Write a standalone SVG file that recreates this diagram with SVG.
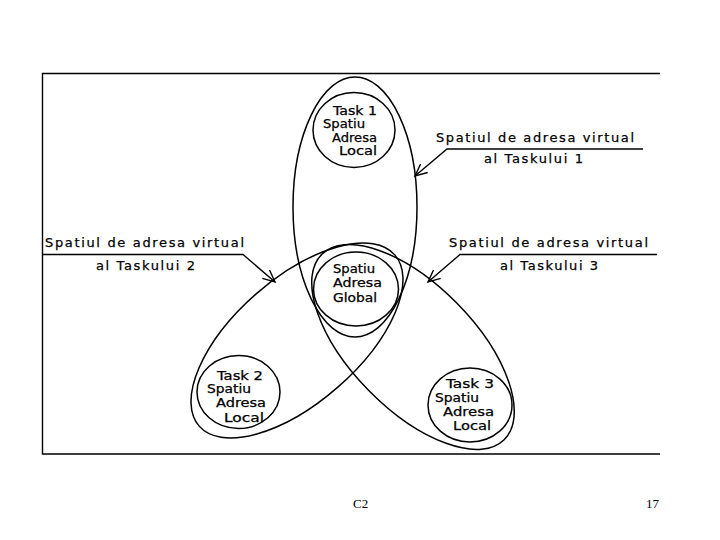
<svg xmlns="http://www.w3.org/2000/svg" width="720" height="540" viewBox="0 0 720 540">
<style>
.sh{fill:none;stroke:#000;stroke-width:1.5}
.ln{fill:none;stroke:#000;stroke-width:1.4}
.t{font-family:"DejaVu Sans","Liberation Sans",sans-serif;font-size:11.5px;fill:#000;stroke:#000;stroke-width:0.25}
.lb{font-family:"DejaVu Sans","Liberation Sans",sans-serif;font-size:13px;fill:#000;stroke:#000;stroke-width:0.25}
.pg{font-family:"Liberation Serif","Times New Roman",serif;font-size:13px;fill:#000}
</style>
<defs>
<marker id="ah" markerUnits="userSpaceOnUse" viewBox="-14 -8 16 16" refX="0" refY="0" markerWidth="16" markerHeight="16" orient="auto">
<path d="M-12,-5.5 L0,0 L-12,5.5" fill="none" stroke="#000" stroke-width="1.4"/>
</marker>
</defs>
<rect width="720" height="540" fill="#fff"/>
<g id="frame">
<path class="ln" d="M660,73.5 H42.5 V454 H660"/>
</g>
<g id="task1-space">
<ellipse class="sh" cx="355" cy="207" rx="62" ry="130"/>
</g>
<g id="task2-space">
<ellipse class="sh" cx="297" cy="340.5" rx="130" ry="62" transform="rotate(-41.2 297 340.5)"/>
</g>
<g id="task3-space">
<ellipse class="sh" cx="413" cy="347" rx="130" ry="62" transform="rotate(45.5 413 347)"/>
</g>
<g id="task1-local">
<ellipse class="sh" cx="354" cy="130" rx="41" ry="37.5"/>
<text class="t" x="333" y="115" textLength="44" lengthAdjust="spacingAndGlyphs">Task 1</text>
<text class="t" x="323" y="128" textLength="42" lengthAdjust="spacingAndGlyphs">Spatiu</text>
<text class="t" x="332" y="142" textLength="45" lengthAdjust="spacingAndGlyphs">Adresa</text>
<text class="t" x="339" y="155" textLength="38" lengthAdjust="spacingAndGlyphs">Local</text>
</g>
<g id="global">
<ellipse class="sh" cx="356" cy="289" rx="42.5" ry="37"/>
<text class="t" x="333" y="273" textLength="42" lengthAdjust="spacingAndGlyphs">Spatiu</text>
<text class="t" x="333" y="287" textLength="49" lengthAdjust="spacingAndGlyphs">Adresa</text>
<text class="t" x="333" y="302" textLength="44" lengthAdjust="spacingAndGlyphs">Global</text>
</g>
<g id="task2-local">
<ellipse class="sh" cx="238.5" cy="392" rx="41.5" ry="36.5"/>
<text class="t" x="217" y="380" textLength="46" lengthAdjust="spacingAndGlyphs">Task 2</text>
<text class="t" x="207" y="393" textLength="44" lengthAdjust="spacingAndGlyphs">Spatiu</text>
<text class="t" x="216" y="407" textLength="50" lengthAdjust="spacingAndGlyphs">Adresa</text>
<text class="t" x="224" y="422" textLength="40" lengthAdjust="spacingAndGlyphs">Local</text>
</g>
<g id="task3-local">
<ellipse class="sh" cx="470" cy="405" rx="42" ry="37"/>
<text class="t" x="446" y="388" textLength="48" lengthAdjust="spacingAndGlyphs">Task 3</text>
<text class="t" x="435" y="402" textLength="44" lengthAdjust="spacingAndGlyphs">Spatiu</text>
<text class="t" x="443" y="416" textLength="51" lengthAdjust="spacingAndGlyphs">Adresa</text>
<text class="t" x="453" y="430" textLength="38" lengthAdjust="spacingAndGlyphs">Local</text>
</g>
<g id="label1">
<text class="lb" x="436" y="142" textLength="198" lengthAdjust="spacing">Spatiul de adresa virtual</text>
<text class="lb" x="484" y="163" textLength="99" lengthAdjust="spacing">al Taskului 1</text>
</g>
<g id="label2">
<text class="lb" x="45" y="247" textLength="199" lengthAdjust="spacing">Spatiul de adresa virtual</text>
<text class="lb" x="96" y="270" textLength="99" lengthAdjust="spacing">al Taskului 2</text>
</g>
<g id="label3">
<text class="lb" x="449" y="247" textLength="199" lengthAdjust="spacing">Spatiul de adresa virtual</text>
<text class="lb" x="500" y="270" textLength="98" lengthAdjust="spacing">al Taskului 3</text>
</g>
<g id="connectors">
<path class="ln" d="M643,149 H447 L415,176" marker-end="url(#ah)"/>
<path class="ln" d="M42.5,254.5 H243 L275,282" marker-end="url(#ah)"/>
<path class="ln" d="M657,254.5 H460 L428,282" marker-end="url(#ah)"/>
</g>
<g id="footer">
<text class="pg" x="353" y="508">C2</text>
<text class="pg" x="646" y="508">17</text>
</g>
</svg>
